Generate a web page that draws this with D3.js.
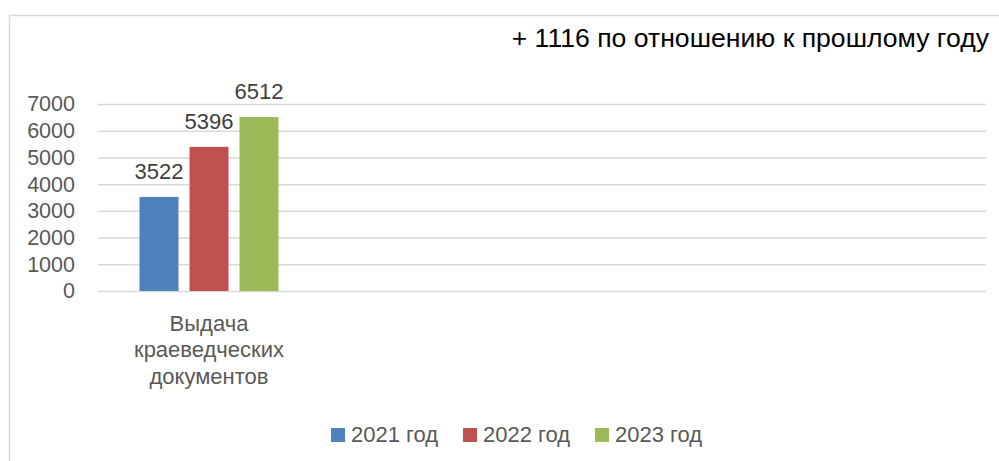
<!DOCTYPE html>
<html>
<head>
<meta charset="utf-8">
<script src="https://cdnjs.cloudflare.com/ajax/libs/d3/7.8.5/d3.min.js"></script>
<style>
  body { margin: 0; background: #fff; }
  svg { display: block; font-family: "Liberation Sans", Arial, sans-serif; }
</style>
</head>
<body>
<svg id="chart" width="999" height="461"></svg>
<script>
// Data
const categories = ["Выдача краеведческих документов", "", "", ""];
const series = ["2021 год", "2022 год", "2023 год"];
const values = [[3522, 5396, 6512]]; // first category only
const yTicks = [0, 1000, 2000, 3000, 4000, 5000, 6000, 7000];
const title = "+ 1116 по отношению к прошлому году";

const colors = ["#4F81BD", "#C0504D", "#9BBB59"];

const svg = d3.select("#chart"),
    margin = { top: 104, right: 13, bottom: 170, left: 98 },
    width = +svg.attr("width") - margin.left - margin.right,
    height = +svg.attr("height") - margin.top - margin.bottom;

// Chart frame
svg.append("rect")
    .attr("x", 9.5).attr("y", 15.5)
    .attr("width", 1000).attr("height", 460)
    .attr("fill", "#fff")
    .attr("stroke", "#D9D9D9")
    .attr("stroke-width", 1.5);

const g = svg.append("g").attr("transform", `translate(${margin.left},${margin.top})`);

// Scales
const x0 = d3.scaleBand().domain(d3.range(categories.length)).range([0, width]);
const x1 = d3.scaleBand().domain(d3.range(series.length))
    .range([x0.bandwidth() * 0.187, x0.bandwidth() * 0.813])
    .paddingInner(0.22);
const y = d3.scaleLinear().domain([0, 7000]).range([height, 0]);

// Gridlines
g.append("g")
    .attr("class", "grid")
    .call(d3.axisLeft(y).tickValues(yTicks).tickSize(-width).tickFormat(""))
    .call(s => s.select(".domain").remove())
    .selectAll("line")
    .attr("stroke", "#D9D9D9")
    .attr("stroke-width", 1.5);

// Y axis labels
g.append("g")
    .call(d3.axisLeft(y).tickValues(yTicks).tickSize(0).tickPadding(23).tickFormat(d3.format("d")))
    .call(s => s.select(".domain").remove())
    .selectAll("text")
    .attr("fill", "#595959")
    .style("font-size", "21.5px")
    .style("font-family", "'Liberation Sans', Arial, sans-serif");

// Bars
values.forEach((row, ci) => {
    const grp = g.append("g").attr("transform", `translate(${x0(ci)},0)`);
    grp.selectAll("rect")
        .data(row)
        .enter().append("rect")
        .attr("x", (d, i) => x1(i))
        .attr("y", d => y(d))
        .attr("width", x1.bandwidth())
        .attr("height", d => height - y(d))
        .attr("fill", (d, i) => colors[i]);

    grp.selectAll("text")
        .data(row)
        .enter().append("text")
        .attr("x", (d, i) => x1(i) + x1.bandwidth() / 2)
        .attr("y", d => y(d) - 18)
        .attr("text-anchor", "middle")
        .attr("fill", "#404040")
        .style("font-size", "22px")
        .text(d => d);
});

// Category labels (wrapped)
const catLines = [["Выдача", "краеведческих", "документов"]];
catLines.forEach((lines, ci) => {
    const t = g.append("text")
        .attr("x", x0(ci) + x0.bandwidth() / 2)
        .attr("y", height + 39.5)
        .attr("text-anchor", "middle")
        .attr("fill", "#595959")
        .style("font-size", "22px");
    lines.forEach((l, i) => {
        t.append("tspan")
            .attr("x", x0(ci) + x0.bandwidth() / 2)
            .attr("dy", i === 0 ? 0 : 26.5)
            .text(l);
    });
});

// Title
svg.append("text")
    .attr("x", 989)
    .attr("y", 47)
    .attr("text-anchor", "end")
    .attr("fill", "#000")
    .style("font-size", "26.6px")
    .text(title);

// Legend
const legendX = [331, 463, 595];
const legend = svg.selectAll(".legend")
    .data(series)
    .enter().append("g")
    .attr("class", "legend")
    .attr("transform", (d, i) => `translate(${legendX[i]},428)`);

legend.append("rect")
    .attr("width", 14)
    .attr("height", 14)
    .attr("fill", (d, i) => colors[i]);

legend.append("text")
    .attr("x", 20)
    .attr("y", 13.5)
    .attr("fill", "#595959")
    .style("font-size", "22px")
    .text(d => d);
</script>
</body>
</html>
